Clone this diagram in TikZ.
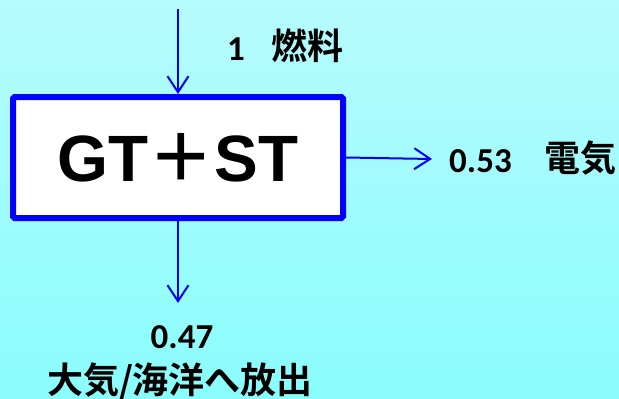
\documentclass[tikz,border=0pt]{standalone}
\usepackage{fontspec}
\setmainfont{Carlito}
\newfontfamily\cjk{Noto Sans CJK JP}[BoldFont={Noto Sans CJK JP Bold}]
\newfontfamily\headfont{Liberation Sans}
\usetikzlibrary{arrows.meta,positioning}
\definecolor{bgtop}{RGB}{182,251,253}
\definecolor{bgbot}{RGB}{138,252,252}
\definecolor{flowblue}{RGB}{0,0,255}

\begin{document}
\begin{tikzpicture}[
		x=1pt, y=-1pt,
		every node/.style={font=\fontsize{35}{38}\selectfont\bfseries, inner sep=0pt},
		cjklabel/.style={font=\fontsize{36}{38}\selectfont\bfseries\cjk},
		plant/.style={draw=flowblue, line width=6pt, rounded corners=1.5pt, fill=white, minimum width=330pt, minimum height=121pt, inner sep=0pt},
		flow/.style={-{Straight Barb[length=16pt, width=21pt, line width=2pt]}, line width=2pt, draw=flowblue}
	]
		\shade[top color=bgtop, bottom color=bgbot] (0,0) rectangle (619,399);
		\useasboundingbox (0,0) rectangle (619,399);

		\node[plant]
			(plant) at (178,157.5)
			{\raisebox{-6pt}{\headfont\fontsize{65.5}{70}\selectfont GT{\cjk ＋}ST}};

		\coordinate (fuelin) at (178,9);
		\coordinate (powerout) at (432,159);
		\coordinate (heatout) at (178,303);

		\draw[flow] (fuelin) -- (plant.north);
		\draw[flow] (plant.east) -- (powerout);
		\draw[flow] (plant.south) -- (heatout);

		% labels
		\node[anchor=base west]
			(fuelval) at (227,60)
			{1};
		\node[cjklabel, anchor=base west]
			(fuel) at (271,59)
			{燃料};
		\node[anchor=base west]
			(powerval) at (449,172)
			{0.53};
		\node[cjklabel, anchor=base west]
			(power) at (544,171)
			{電気};
		\node[anchor=base]
			(heatval) at (182,348)
			{0.47};
		\node[cjklabel, anchor=base]
			(heat) at (180,393)
			{大気/海洋へ放出};
	\end{tikzpicture}
\end{document}
